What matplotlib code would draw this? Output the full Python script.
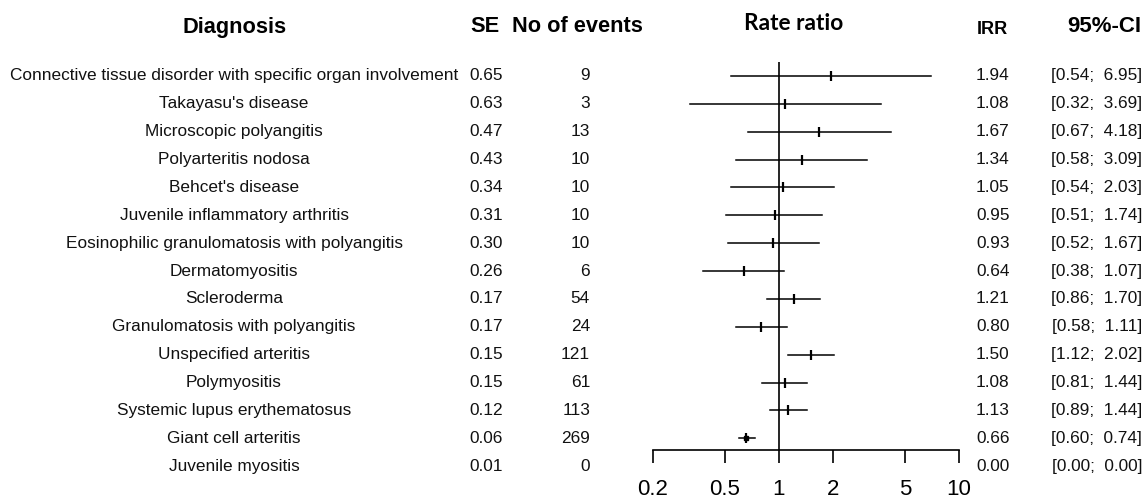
import numpy as np
import matplotlib
matplotlib.use("Agg")
import matplotlib.pyplot as plt
from matplotlib.transforms import blended_transform_factory

plt.rcParams['font.family'] = ['Liberation Sans', 'DejaVu Sans']

# incidence rate ratios per diagnosis
diagnosis = ["Connective tissue disorder with specific organ involvement",
             "Takayasu's disease",
             "Microscopic polyangitis",
             "Polyarteritis nodosa",
             "Behcet's disease",
             "Juvenile inflammatory arthritis",
             "Eosinophilic granulomatosis with polyangitis",
             "Dermatomyositis",
             "Scleroderma",
             "Granulomatosis with polyangitis",
             "Unspecified arteritis",
             "Polymyositis",
             "Systemic lupus erythematosus",
             "Giant cell arteritis",
             "Juvenile myositis"]
se = [0.65, 0.63, 0.47, 0.43, 0.34, 0.31, 0.30, 0.26, 0.17, 0.17, 0.15, 0.15, 0.12, 0.06, 0.01]
n_events = [9, 3, 13, 10, 10, 10, 10, 6, 54, 24, 121, 61, 113, 269, 0]
irr = [1.94, 1.08, 1.67, 1.34, 1.05, 0.95, 0.93, 0.64, 1.21, 0.80, 1.50, 1.08, 1.13, 0.66, 0.00]
ci_lo = [0.54, 0.32, 0.67, 0.58, 0.54, 0.51, 0.52, 0.38, 0.86, 0.58, 1.12, 0.81, 0.89, 0.60, 0.00]
ci_hi = [6.95, 3.69, 4.18, 3.09, 2.03, 1.74, 1.67, 1.07, 1.70, 1.11, 2.02, 1.44, 1.44, 0.74, 0.00]
xticks = [0.2, 0.5, 1, 2, 5, 10]

W, H = 1147, 499
fig = plt.figure(figsize=(W / 100, H / 100), dpi=100)

def fx(px):
    return px / W

def fy(py):
    return 1 - py / H

# forest panel, rows 0..13 inside, the last row hangs below the axis
ax = fig.add_axes([fx(653), fy(450), fx(959) - fx(653), fy(62) - fy(450)])
ax.set_xscale('log')
ax.set_xlim(0.2, 10)
ax.set_ylim(13.42, -0.50)
for s in ['top', 'right', 'left']:
    ax.spines[s].set_visible(False)
ax.spines['bottom'].set_linewidth(1.2)
ax.set_yticks([])
ax.set_xticks(xticks)
ax.set_xticklabels([f"{t:g}" for t in xticks], fontsize=16)
ax.minorticks_off()
ax.tick_params(axis='x', length=9.5, width=1.2, pad=11.5, colors='black')
ax.axvline(1, color='black', lw=1.2)

rows = np.arange(len(diagnosis))
for i in rows:
    if irr[i] <= 0:
        continue
    ax.plot([ci_lo[i], ci_hi[i]], [i, i], color='black', lw=1.1, clip_on=False)
    ax.plot(irr[i], i, marker='|', ms=7, mew=1.6, color='black', clip_on=False)
# heavier box for the most precise estimate
ax.plot(irr[13], 13, marker='s', ms=2.5, color='black')

tr = blended_transform_factory(fig.transFigure, ax.transData)
txt = dict(fontsize=12.4, color='#111111', va='center', transform=tr)
for i in rows:
    fig.text(fx(234), i, diagnosis[i], ha='center', **txt)
    fig.text(fx(469), i, f"{se[i]:.2f}", ha='left', **txt)
    fig.text(fx(590), i, f"{n_events[i]}", ha='right', **txt)
    fig.text(fx(976), i, f"{irr[i]:.2f}", ha='left', **txt)
    fig.text(fx(1142), i, f"[{ci_lo[i]:.2f};  {ci_hi[i]:.2f}]", ha='right', **txt)

# column headers
hdr = dict(fontsize=15.7, fontweight='bold', va='center')
fig.text(fx(235), fy(27), "Diagnosis", ha='center', **hdr)
fig.text(fx(485), fy(27), "SE", ha='center', **hdr)
fig.text(fx(577), fy(27), "No of events", ha='center', **hdr)
fig.text(fx(794), fy(24), "Rate ratio", ha='center', fontsize=16.3, fontweight='bold',
         family=['Lato', 'DejaVu Sans'], va='center')
fig.text(fx(977), fy(30), "IRR", ha='left', fontsize=13, fontweight='bold', va='center')
fig.text(fx(1141), fy(27), "95%-CI", ha='right', fontsize=16, fontweight='bold', va='center')

fig.savefig("out.png", dpi=100)
